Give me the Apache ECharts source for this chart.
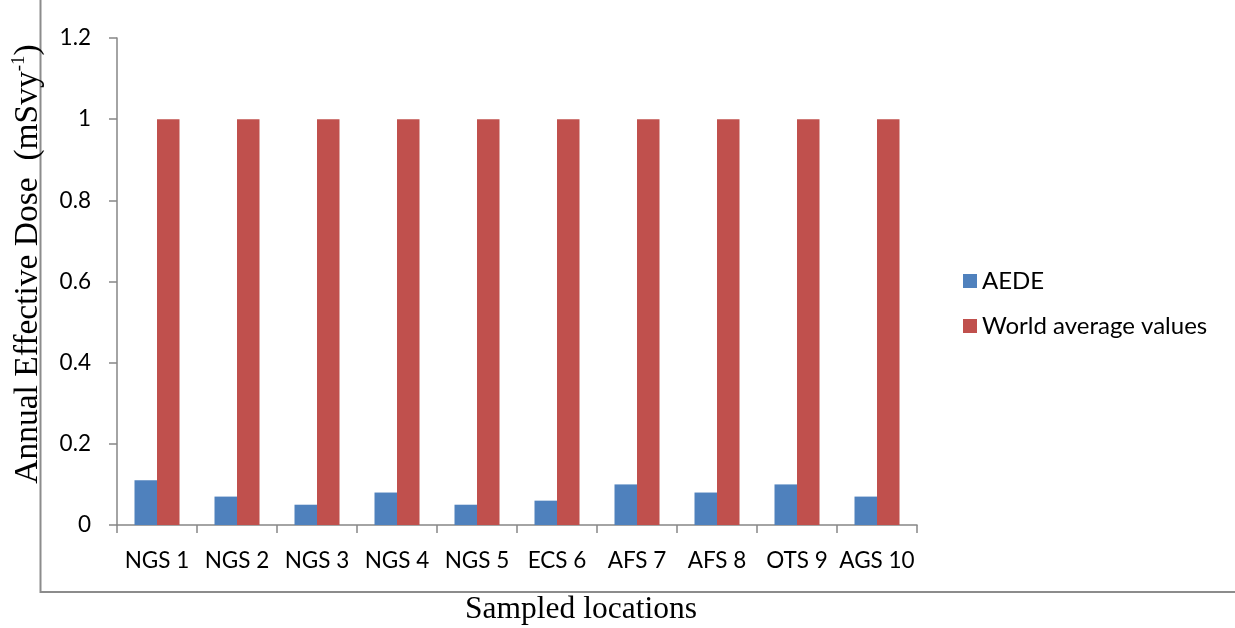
<!DOCTYPE html>
<html>
<head>
<meta charset="utf-8">
<script src="https://cdn.jsdelivr.net/npm/echarts@6/dist/echarts.min.js"></script>
<style>
html,body{margin:0;padding:0;background:#fff;}
#chart{width:1235px;height:628px;}
</style>
</head>
<body>
<div id="chart"></div>
<script>
const categories = ['NGS 1','NGS 2','NGS 3','NGS 4','NGS 5','ECS 6','AFS 7','AFS 8','OTS 9','AGS 10'];
const aede = [0.11,0.07,0.05,0.08,0.05,0.06,0.10,0.08,0.10,0.07];
const worldAverage = [1,1,1,1,1,1,1,1,1,1];
const seriesNames = ['AEDE','World average values'];

const chart = echarts.init(document.getElementById('chart'), null, {renderer:'canvas'});
const labelFont = 'Lato';
chart.setOption({
  animation:false,
  backgroundColor:'#fff',
  grid:{left:117,right:318,top:38,bottom:103,containLabel:false},
  legend:{
    orient:'vertical', left:958, top:264, itemWidth:14, itemHeight:14, itemGap:21,
    icon:'rect',
    textStyle:{fontFamily:labelFont,fontSize:24,color:'#000'},
    data:seriesNames
  },
  xAxis:{
    type:'category', data:categories,
    axisLine:{lineStyle:{color:'#868686',width:1.5}},
    axisTick:{show:true,length:8,lineStyle:{color:'#868686',width:1.5}},
    axisLabel:{fontFamily:labelFont,fontSize:22.5,color:'#000',margin:24,interval:0}
  },
  yAxis:{
    type:'value', min:0, max:1.2, interval:0.2,
    splitLine:{show:false},
    axisLine:{show:true,lineStyle:{color:'#868686',width:1.5}},
    axisTick:{show:true,length:8,lineStyle:{color:'#868686',width:1.5}},
    axisLabel:{fontFamily:labelFont,fontSize:22.5,color:'#000',margin:26}
  },
  series:[
    {name:seriesNames[0],type:'bar',data:aede,barWidth:22.5,barGap:'0%',itemStyle:{color:'#4F81BD'}},
    {name:seriesNames[1],type:'bar',data:worldAverage,barWidth:22.5,barGap:'0%',itemStyle:{color:'#C0504D'}}
  ],
  graphic:[
    {type:'rect',shape:{x:40.5,y:-5,width:1300,height:597},style:{fill:'none',stroke:'#8c8c8c',lineWidth:2},silent:true,z:-1},
    {type:'text',x:28,y:264,rotation:Math.PI/2,
      style:{text:'{a|Annual Effective Dose  (mSvy}{s|-1}{a|)}',align:'center',verticalAlign:'middle',
        rich:{a:{fontFamily:'Liberation Serif',fontSize:33.5,color:'#000',lineHeight:36},
              s:{fontFamily:'Liberation Serif',fontSize:19,color:'#000',lineHeight:36,verticalAlign:'top',padding:[0,0,14,0]}}}},
    {type:'text',x:581,y:610,
      style:{text:'Sampled locations',align:'center',verticalAlign:'middle',fontFamily:'Liberation Serif',fontSize:31.5,fill:'#000'}}
  ]
});
</script>
</body>
</html>
